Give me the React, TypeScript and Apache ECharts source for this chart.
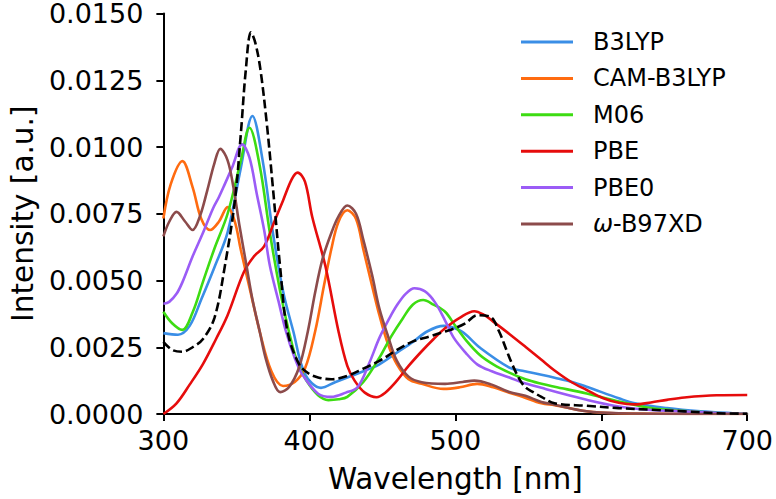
import React, { useEffect, useRef } from "react";
import * as echarts from "echarts";

const FONT = "DejaVu Sans";

const xTicks = [300, 400, 500, 600, 700];

const b3lypX = [300, 310, 318, 326, 335, 344, 353, 361, 368, 375, 382, 389, 397, 408, 418, 426, 437, 448, 460, 471, 481, 492, 504, 517, 537, 546, 559, 568, 580, 590, 612, 623, 645, 668, 690, 700];
const b3lypY = [0.00303, 0.00297, 0.0033, 0.0043, 0.0055, 0.0068, 0.0092, 0.01116, 0.0095, 0.0068, 0.0046, 0.0031, 0.0015, 0.00098, 0.0012, 0.00137, 0.0016, 0.00186, 0.0023, 0.0027, 0.0031, 0.0033, 0.0031, 0.00248, 0.00174, 0.00162, 0.00147, 0.00136, 0.0012, 0.00102, 0.00059, 0.0004, 0.00022, 0.0001, 0.00003, 0.00001];

const camX = [300, 305, 313, 320, 326, 332, 338, 344, 349, 353, 360, 366, 374, 382, 390, 397, 404, 410, 415, 420, 426, 432, 437, 443, 448, 454, 460, 468, 477, 492, 503, 515, 526, 537, 546, 559, 568, 590, 610, 700];
const camY = [0.00732, 0.0086, 0.00947, 0.0085, 0.0073, 0.00689, 0.0072, 0.00775, 0.0072, 0.00616, 0.0045, 0.00309, 0.0016, 0.00105, 0.0012, 0.0017, 0.0031, 0.0048, 0.00616, 0.0072, 0.00763, 0.0073, 0.00616, 0.0048, 0.0037, 0.0026, 0.00186, 0.0013, 0.00113, 0.00094, 0.001, 0.00113, 0.001, 0.0008, 0.00065, 0.0004, 0.00033, 0.0001, 0.00003, 0];

const m06X = [300, 306, 313, 320, 327, 335, 344, 353, 359, 366, 373, 380, 386, 392, 398, 406, 413, 420, 426, 437, 448, 456, 464, 471, 478, 485, 493, 500, 508, 517, 526, 537, 548, 559, 568, 590, 612, 634, 657, 679, 700];
const m06Y = [0.00383, 0.0034, 0.00315, 0.0038, 0.00493, 0.0062, 0.0075, 0.00947, 0.01072, 0.0093, 0.00677, 0.0046, 0.00309, 0.0019, 0.00125, 0.0007, 0.00052, 0.00055, 0.00064, 0.0012, 0.00211, 0.0029, 0.00358, 0.0041, 0.00427, 0.0041, 0.00383, 0.0033, 0.00272, 0.0022, 0.00186, 0.00155, 0.0013, 0.00113, 0.00102, 0.00077, 0.00047, 0.00022, 0.00011, 0.00004, 0.00001];

const pbeX = [300, 309, 318, 327, 336, 344, 355, 362, 369, 376, 382, 388, 392, 397, 402, 411, 420, 426, 431, 438, 446, 452, 460, 468, 477, 485, 493, 503, 513, 520, 526, 537, 548, 559, 568, 580, 590, 601, 612, 623, 634, 645, 657, 679, 700];
const pbeY = [0, 0.0004, 0.0011, 0.00186, 0.0028, 0.0037, 0.0053, 0.0059, 0.00628, 0.0072, 0.008, 0.0088, 0.00904, 0.0087, 0.00738, 0.00554, 0.00309, 0.0018, 0.00125, 0.0008, 0.00063, 0.0008, 0.00125, 0.0018, 0.00235, 0.0028, 0.00321, 0.0036, 0.00385, 0.0037, 0.00346, 0.003, 0.00252, 0.00203, 0.00163, 0.00118, 0.0009, 0.0006, 0.00042, 0.00036, 0.00043, 0.00053, 0.00062, 0.0007, 0.00071];

const pbe0X = [300, 304, 309, 313, 320, 327, 334, 338, 342, 347, 354, 359, 364, 369, 373, 379, 384, 390, 395, 406, 415, 425, 433, 441, 448, 455, 460, 466, 472, 479, 486, 493, 499, 507, 515, 525, 537, 546, 559, 568, 590, 612, 634, 657, 679, 700];
const pbe0Y = [0.00413, 0.0042, 0.0045, 0.00493, 0.0059, 0.00677, 0.0077, 0.00812, 0.0086, 0.00922, 0.0101, 0.0096, 0.00824, 0.0069, 0.00554, 0.0042, 0.00309, 0.0021, 0.0015, 0.00076, 0.00064, 0.0008, 0.001, 0.0019, 0.00285, 0.0036, 0.00407, 0.0045, 0.00471, 0.0046, 0.00419, 0.0035, 0.00285, 0.0023, 0.00186, 0.0016, 0.00137, 0.00118, 0.00098, 0.00084, 0.00053, 0.00028, 0.00015, 0.0001, 0.00004, 0.00001];

const wb97X = [300, 304, 309, 315, 320, 325, 330, 335, 339, 344, 348, 352, 357, 361, 366, 370, 375, 380, 386, 393, 399, 404, 409, 415, 420, 426, 432, 437, 443, 448, 454, 460, 468, 477, 493, 505, 513, 525, 537, 548, 559, 568, 590, 612, 700];
const wb97Y = [0.00665, 0.0072, 0.00757, 0.0072, 0.00689, 0.0074, 0.00836, 0.0094, 0.00993, 0.0095, 0.00849, 0.0071, 0.00554, 0.0043, 0.00309, 0.0021, 0.00125, 0.00082, 0.001, 0.00175, 0.0031, 0.00456, 0.0058, 0.00677, 0.0074, 0.00781, 0.0075, 0.00652, 0.0052, 0.00395, 0.0029, 0.00199, 0.0014, 0.00119, 0.00113, 0.0012, 0.00125, 0.0011, 0.00082, 0.00068, 0.00045, 0.00035, 0.0001, 0.00003, 0];

const expX = [300, 306, 313, 320, 327, 335, 342, 349, 353, 356.5, 360, 363, 366.5, 371, 375, 380, 385, 393, 400, 406, 415, 426, 437, 448, 460, 471, 482, 493, 499, 507, 515, 524, 530, 535, 539, 544, 548, 553, 559, 568, 590, 612, 634, 657, 679, 700];
const expY = [0.0027, 0.0024, 0.00233, 0.0025, 0.0028, 0.0036, 0.0055, 0.008, 0.01045, 0.0129, 0.0143, 0.0139, 0.0129, 0.0108, 0.0085, 0.0055, 0.0031, 0.00186, 0.0015, 0.00137, 0.0013, 0.00143, 0.0017, 0.00199, 0.0024, 0.00272, 0.0029, 0.00309, 0.0032, 0.0034, 0.0037, 0.00364, 0.00309, 0.0024, 0.00186, 0.0013, 0.001, 0.00083, 0.00064, 0.0004, 0.00031, 0.00022, 0.00016, 0.0001, 0.00003, 0.00001];

const seriesNames = ["B3LYP", "CAM-B3LYP", "M06", "PBE", "PBE0", "ω-B97XD"];
const seriesColors = ["#3a8ee6", "#ff6b10", "#3ddc12", "#e60c0c", "#9b5cf6", "#8c4b4b"];
const seriesXs = [b3lypX, camX, m06X, pbeX, pbe0X, wb97X];
const seriesYs = [b3lypY, camY, m06Y, pbeY, pbe0Y, wb97Y];

function pairs(xs: number[], ys: number[]) {
  return xs.map((x, i) => [x, ys[i]]);
}

export default function App() {
  const ref = useRef<HTMLDivElement>(null);
  useEffect(() => {
    if (!ref.current) return;
    const chart = echarts.init(ref.current, undefined, { renderer: "svg" });
    const lines: any[] = seriesNames.map((name, i) => ({
      name,
      type: "line",
      data: pairs(seriesXs[i], seriesYs[i]),
      smooth: 0.35,
      showSymbol: false,
      symbol: "none",
      lineStyle: { width: 2.6, color: seriesColors[i] },
      itemStyle: { color: seriesColors[i] },
    }));
    lines.push({
      name: "Experiment",
      type: "line",
      data: pairs(expX, expY),
      smooth: 0.35,
      showSymbol: false,
      symbol: "none",
      lineStyle: { width: 2.6, color: "#000000", type: [9, 4] },
      itemStyle: { color: "#000000" },
      z: 3,
    });
    chart.setOption({
      animation: false,
      backgroundColor: "#ffffff",
      textStyle: { fontFamily: FONT },
      grid: { left: 150, right: 24, top: 10, bottom: 81, containLabel: false },
      legend: {
        data: seriesNames,
        orient: "vertical",
        left: 521,
        top: 30,
        padding: 0,
        icon: "rect",
        itemWidth: 52,
        itemHeight: 3,
        itemGap: 12.4,
        formatter: (n: string) => (n === "ω-B97XD" ? "{i|ω}-B97XD" : n),
        textStyle: {
          fontFamily: FONT,
          fontSize: 24,
          color: "#000",
          lineHeight: 24,
          padding: [0, 0, 0, 15],
          rich: {
            i: { fontFamily: FONT, fontSize: 24, fontStyle: "italic", color: "#000" },
          },
        },
      },
      xAxis: {
        type: "value",
        min: 300,
        max: 700,
        interval: 100,
        name: "Wavelength [nm]",
        nameLocation: "middle",
        nameGap: 50,
        nameTextStyle: { fontFamily: FONT, fontSize: 29.5, color: "#000" },
        axisLine: { show: true, onZero: false, lineStyle: { color: "#000", width: 2 } },
        axisTick: { show: true, length: 7, lineStyle: { color: "#000", width: 2 } },
        axisLabel: {
          fontFamily: FONT,
          fontSize: 27,
          color: "#000",
          margin: 15,
          lineHeight: 22,
          formatter: (v: number) => (xTicks.includes(v) ? String(v) : ""),
        },
        splitLine: { show: false },
      },
      yAxis: {
        type: "value",
        min: 0,
        max: 0.015,
        interval: 0.0025,
        name: "Intensity [a.u.]",
        nameLocation: "middle",
        nameGap: 119,
        nameRotate: 90,
        nameTextStyle: { fontFamily: FONT, fontSize: 29.5, color: "#000" },
        axisLine: { show: true, lineStyle: { color: "#000", width: 2 } },
        axisTick: { show: true, length: 7, lineStyle: { color: "#000", width: 2 } },
        axisLabel: {
          fontFamily: FONT,
          fontSize: 27,
          color: "#000",
          margin: 20,
          lineHeight: 20,
          formatter: (v: number) => v.toFixed(4),
        },
        splitLine: { show: false },
      },
      series: lines,
    });
    return () => chart.dispose();
  }, []);
  return (
    <div
      ref={ref}
      style={{ position: "fixed", left: 0, top: 0, width: 776, height: 499, background: "#fff" }}
    />
  );
}
